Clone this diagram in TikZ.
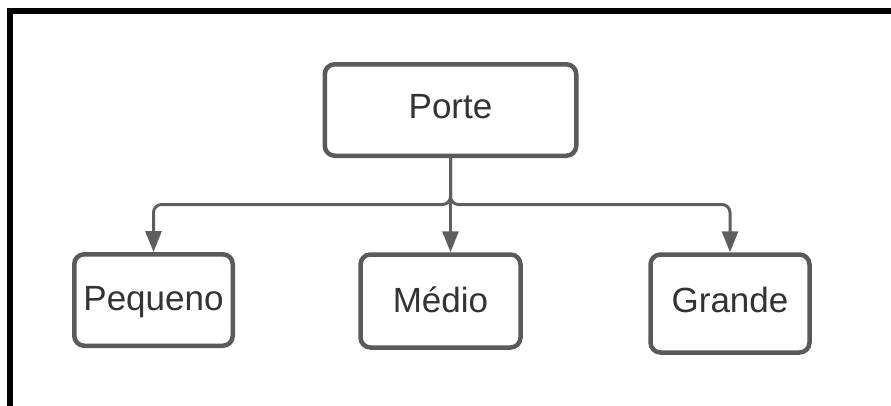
\documentclass[tikz,border=0pt]{standalone}
\usepackage{fontspec}
\setmainfont{Liberation Sans}
\usetikzlibrary{arrows.meta}
\definecolor{boxline}{HTML}{5A5A5A}
\definecolor{linkline}{HTML}{5E5E5E}
\definecolor{labeltext}{HTML}{333333}
\tikzset{
  sizebox/.style={draw=boxline, line width=4.5pt, rounded corners=10pt, fill=white,
    inner sep=0pt, text=labeltext, font=\fontsize{35}{42}\selectfont,
    text height=25pt, text depth=6pt},
  link/.style={draw=linkline, line width=3pt, rounded corners=8pt,
    -{Triangle[length=21pt,width=16pt]}},
  frameline/.style={draw=black, line width=6pt},
}
\begin{document}
\begin{tikzpicture}[x=1pt,y=-1pt]
  \useasboundingbox (0,0) rectangle (891,405);
  % outer frame (top and left edges)
  \draw[frameline] (10,410) -- (10,11) -- (900,11);

  % boxes
  \node[sizebox, minimum width=251.5pt, minimum height=91.5pt, text depth=9pt] (porte) at (450.5,110) {Porte};
  \node[sizebox, minimum width=158.5pt, minimum height=91.5pt, text depth=5pt] (pequeno) at (153.5,300) {Pequeno};
  \node[sizebox, minimum width=160pt, minimum height=93pt, text depth=3pt] (medio) at (440.5,301) {Médio};
  \node[sizebox, minimum width=159pt, minimum height=98pt, text depth=8pt] (grande) at (730,303.5) {Grande};

  % shared horizontal bus
  \coordinate (bus) at (451,204.5);

  % connectors
  \draw[link] (porte.south) |- (bus -| pequeno.north) -- (pequeno.north);
  \draw[link] (porte.south) |- (bus -| grande.north) -- (grande.north);
  \draw[link] (porte.south) -- (porte.south |- medio.north);
\end{tikzpicture}
\end{document}
